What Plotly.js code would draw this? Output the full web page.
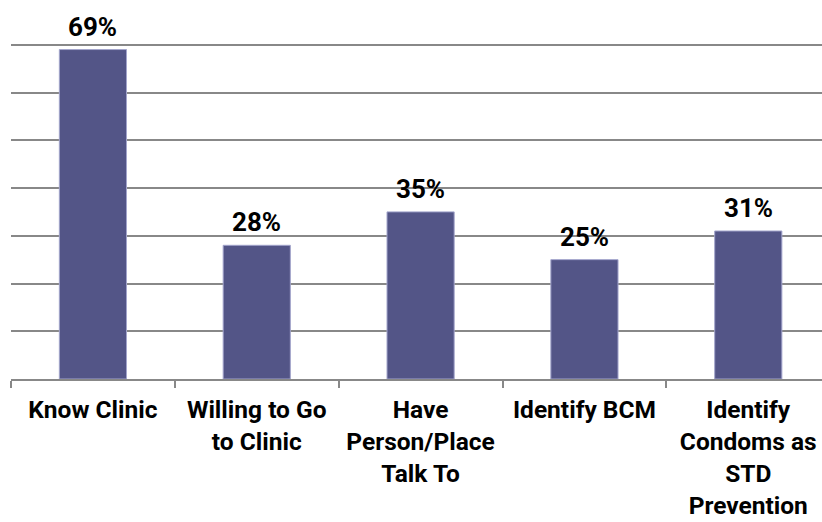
<!DOCTYPE html>
<html>
<head>
<meta charset="utf-8">
<script src="https://cdn.plot.ly/plotly-3.0.1.min.js"></script>
<style>html,body{margin:0;padding:0;background:#fff;}#chart{width:822px;height:522px;}</style>
</head>
<body>
<div id="chart"></div>
<script>
var categories = ["Know Clinic", "Willing to Go<br>to Clinic", "Have<br>Person/Place<br>Talk To", "Identify BCM", "Identify<br>Condoms as<br>STD<br>Prevention"];
var values = [69, 28, 35, 25, 31];
var valueLabels = ["69%", "28%", "35%", "25%", "31%"];

var trace = {
  type: "bar",
  x: categories,
  y: values,
  width: 0.41,
  marker: {color: "#535587", line: {color: "#a3a5cc", width: 1}},
  hoverinfo: "none"
};

var annotations = categories.map(function (c, i) {
  return {
    x: c, y: values[i], xref: "x", yref: "y",
    text: valueLabels[i], showarrow: false,
    yanchor: "bottom", yshift: 6,
    font: {family: "Roboto", size: 26, color: "#000", weight: "bold"}
  };
});

var layout = {
  width: 822, height: 522,
  margin: {l: 11, r: 0, t: 40, b: 143},
  paper_bgcolor: "#fff", plot_bgcolor: "#fff",
  showlegend: false,
  bargap: 0.59,
  xaxis: {
    type: "category",
    range: [-0.5, 4.45],
    tickson: "boundaries",
    ticks: "outside", ticklen: 7, tickwidth: 2, tickcolor: "#888",
    ticklabelstandoff: 8,
    showline: true, linecolor: "#888", linewidth: 2,
    showgrid: false, zeroline: false,
    tickfont: {family: "Roboto", size: 24.5, color: "#000", weight: "bold"},
    fixedrange: true
  },
  yaxis: {
    range: [0, 71], dtick: 10,
    showgrid: true, gridcolor: "#888", gridwidth: 2,
    showticklabels: false, zeroline: false, showline: false, ticks: "",
    fixedrange: true
  },
  annotations: annotations
};

Plotly.newPlot("chart", [trace], layout, {displayModeBar: false, staticPlot: true});
</script>
</body>
</html>
